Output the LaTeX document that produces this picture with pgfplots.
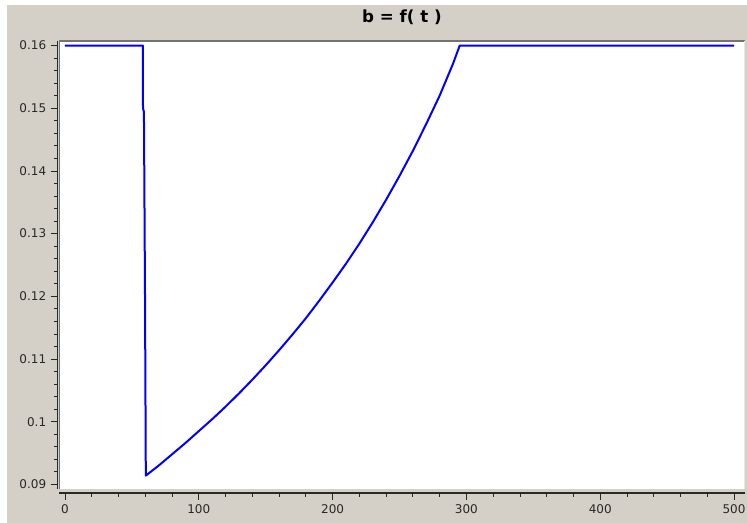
\documentclass[border=0pt]{standalone}
\usepackage{fontspec}
\setmainfont{DejaVu Sans}
\usepackage{pgfplots}
\pgfplotsset{compat=1.18}
\definecolor{bggray}{RGB}{212,208,200}
\definecolor{boxdark}{RGB}{115,115,112}
\definecolor{boxlight}{RGB}{230,230,230}
\definecolor{ticktext}{RGB}{40,40,40}
\begin{document}
\begin{tikzpicture}
\useasboundingbox (0,0) rectangle (560.25pt,392.25pt);
\fill[white] (0,0) rectangle (560.25pt,392.25pt);
\fill[bggray] (5.25pt,0) rectangle (560.25pt,388.5pt);
\begin{axis}[
  at={(44.25pt,25.5pt)}, anchor=south west,
  width=514.5pt, height=336pt, scale only axis,
  xmin=-4.48, xmax=508.2, ymin=0.08927, ymax=0.16072,
  axis lines=left,
  axis line style={-, line width=0.9pt, ticktext},
  axis x line shift=3pt, axis y line shift=1.1pt,
  axis background/.style={fill=white},
  xtick={0,100,200,300,400,500},
  xticklabels={0,100,200,300,400,500},
  ytick={0.09,0.10,0.11,0.12,0.13,0.14,0.15,0.16},
  yticklabels={0.09,0.1,0.11,0.12,0.13,0.14,0.15,0.16},
  scaled ticks=false,
  /pgf/number format/assume math mode=true,
  tick align=outside, major tick length=5pt, minor tick length=3pt,
  minor tick num=4,
  tick style={ticktext, line width=0.6pt},
  ticklabel style={font=\fontsize{9}{11}\selectfont, text=ticktext},
  title={b = f( t )},
  title style={at={(0.5,1)}, anchor=center, yshift=12pt, font=\fontsize{12.5}{15}\selectfont\bfseries, text=black},
]
\addplot[blue, line width=1.5pt, line join=round] coordinates {
(0,0.16) (58.2,0.16) (58.3,0.1500) (59.0,0.1494) (59.8,0.1200) (60.4,0.0914)
(70,0.0930) (80,0.0948) (90,0.0966) (100,0.0985) (110,0.1004) (120,0.1024)
(130,0.1045) (140,0.1067) (150,0.1090) (160,0.1114) (170,0.1139) (180,0.1165)
(190,0.1193) (200,0.1222) (210,0.1252) (220,0.1284) (230,0.1318) (240,0.1354)
(250,0.1392) (260,0.1432) (270,0.1475) (280,0.1520) (290,0.1571) (295,0.1600)
(500,0.16)
};
\draw[boxdark, line width=1.5pt] (rel axis cs:0,0) -- (rel axis cs:0,1) -- (rel axis cs:1,1);
\draw[boxlight, line width=1pt] (rel axis cs:1,1) -- (rel axis cs:1,0);
\end{axis}
\end{tikzpicture}
\end{document}
